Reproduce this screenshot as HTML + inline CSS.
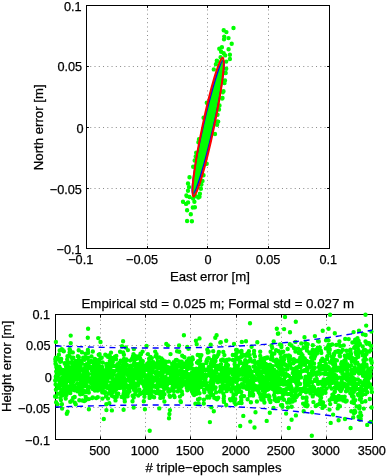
<!DOCTYPE html>
<html><head><meta charset="utf-8"><style>
html,body{margin:0;padding:0;background:#fff;}
body{width:386px;height:476px;overflow:hidden;}
svg{display:block;will-change:transform;font-family:"Liberation Sans",sans-serif;}
text{stroke:#000;stroke-width:0.25;}
</style></head><body>
<svg width="386" height="476" viewBox="0 0 386 476">
<rect width="386" height="476" fill="#fff"/>
<line x1="147.5" y1="248.5" x2="147.5" y2="5.5" stroke="#8a8a8a" stroke-width="1" stroke-dasharray="1 3.260" stroke-dashoffset="0.5"/>
<line x1="207.5" y1="248.5" x2="207.5" y2="5.5" stroke="#8a8a8a" stroke-width="1" stroke-dasharray="1 3.260" stroke-dashoffset="0.5"/>
<line x1="268.5" y1="248.5" x2="268.5" y2="5.5" stroke="#8a8a8a" stroke-width="1" stroke-dasharray="1 3.260" stroke-dashoffset="0.5"/>
<line x1="86.5" y1="66.5" x2="329.5" y2="66.5" stroke="#8a8a8a" stroke-width="1" stroke-dasharray="1 3.260" stroke-dashoffset="0.5"/>
<line x1="86.5" y1="127.5" x2="329.5" y2="127.5" stroke="#8a8a8a" stroke-width="1" stroke-dasharray="1 3.260" stroke-dashoffset="0.5"/>
<line x1="86.5" y1="188.5" x2="329.5" y2="188.5" stroke="#8a8a8a" stroke-width="1" stroke-dasharray="1 3.260" stroke-dashoffset="0.5"/>
<line x1="100.5" y1="439.5" x2="100.5" y2="314.5" stroke="#8a8a8a" stroke-width="1" stroke-dasharray="1 3.260" stroke-dashoffset="0.5"/>
<line x1="145.5" y1="439.5" x2="145.5" y2="314.5" stroke="#8a8a8a" stroke-width="1" stroke-dasharray="1 3.260" stroke-dashoffset="0.5"/>
<line x1="190.5" y1="439.5" x2="190.5" y2="314.5" stroke="#8a8a8a" stroke-width="1" stroke-dasharray="1 3.260" stroke-dashoffset="0.5"/>
<line x1="236.5" y1="439.5" x2="236.5" y2="314.5" stroke="#8a8a8a" stroke-width="1" stroke-dasharray="1 3.260" stroke-dashoffset="0.5"/>
<line x1="281.5" y1="439.5" x2="281.5" y2="314.5" stroke="#8a8a8a" stroke-width="1" stroke-dasharray="1 3.260" stroke-dashoffset="0.5"/>
<line x1="326.5" y1="439.5" x2="326.5" y2="314.5" stroke="#8a8a8a" stroke-width="1" stroke-dasharray="1 3.260" stroke-dashoffset="0.5"/>
<line x1="55.5" y1="345.5" x2="372.5" y2="345.5" stroke="#8a8a8a" stroke-width="1" stroke-dasharray="1 3.260" stroke-dashoffset="0.5"/>
<line x1="55.5" y1="376.5" x2="372.5" y2="376.5" stroke="#8a8a8a" stroke-width="1" stroke-dasharray="1 3.260" stroke-dashoffset="0.5"/>
<line x1="55.5" y1="407.5" x2="372.5" y2="407.5" stroke="#8a8a8a" stroke-width="1" stroke-dasharray="1 3.260" stroke-dashoffset="0.5"/>
<rect x="86.5" y="5.5" width="243.0" height="243.0" fill="none" stroke="#000" stroke-width="1"/>
<rect x="55.5" y="314.5" width="317.0" height="125.0" fill="none" stroke="#000" stroke-width="1"/>
<path d="M147.5 248.5v-2.4M147.5 5.5v2.4M207.5 248.5v-2.4M207.5 5.5v2.4M268.5 248.5v-2.4M268.5 5.5v2.4M86.5 66.5h2.4M329.5 66.5h-2.4M86.5 127.5h2.4M329.5 127.5h-2.4M86.5 188.5h2.4M329.5 188.5h-2.4M100.5 439.5v-3.2M100.5 314.5v3.2M145.5 439.5v-3.2M145.5 314.5v3.2M190.5 439.5v-3.2M190.5 314.5v3.2M236.5 439.5v-3.2M236.5 314.5v3.2M281.5 439.5v-3.2M281.5 314.5v3.2M326.5 439.5v-3.2M326.5 314.5v3.2M55.5 345.5h3.2M372.5 345.5h-3.2M55.5 376.5h3.2M372.5 376.5h-3.2M55.5 407.5h3.2M372.5 407.5h-3.2" stroke="#000" stroke-width="1" fill="none"/>
<g transform="translate(208.15 127.05) rotate(11.919)">
<ellipse cx="0" cy="0" rx="5.9" ry="71" fill="#00ff00"/>
</g>
<path d="M233.5 28.0h0M223.7 30.2h0M226.4 32.1h0M224.2 36.6h0M224.0 39.2h0M228.5 38.1h0M231.7 43.8h0M221.9 47.2h0M219.3 48.8h0M228.6 49.3h0M221.1 51.7h0M223.7 53.3h0M229.9 54.8h0M225.2 55.4h0M229.9 59.0h0M217.4 61.1h0M215.9 64.2h0M226.2 61.6h0M213.8 69.4h0M226.2 68.8h0M225.7 73.0h0M220.6 57.3h0M216.8 60.8h0M225.0 73.1h0M225.0 80.4h0M224.5 83.0h0M223.5 91.2h0M223.0 92.3h0M222.5 98.0h0M222.1 98.6h0M219.5 105.4h0M219.0 109.5h0M217.5 114.7h0M217.5 121.4h0M218.2 121.6h0M217.1 124.7h0M215.0 134.0h0M206.7 163.7h0M206.8 102.8h0M203.6 117.8h0M199.0 139.2h0M198.4 142.3h0M196.2 152.8h0M195.7 156.4h0M194.7 160.5h0M193.2 166.8h0M189.5 177.3h0M188.0 183.5h0M189.0 187.1h0M188.0 190.7h0M186.4 195.4h0M189.5 197.0h0M203.5 175.2h0M202.5 180.9h0M201.4 184.5h0M200.9 188.7h0M199.9 193.8h0M198.3 197.5h0M193.1 198.5h0M186.6 196.1h0M199.5 196.7h0M195.9 196.1h0M183.0 201.8h0M186.1 203.9h0M188.1 202.4h0M194.4 201.8h0M192.8 207.5h0M194.9 207.3h0M187.1 210.3h0M190.8 214.3h0M187.1 221.0h0M191.9 221.2h0" stroke="#00ff00" stroke-width="4.4" stroke-linecap="round" fill="none"/>
<g transform="translate(208.15 127.05) rotate(11.919)">
<ellipse cx="0" cy="0" rx="5.0" ry="68.4" fill="none" stroke="#0000ff" stroke-width="1.4" transform="rotate(1.0)"/>
<ellipse cx="0" cy="0" rx="5.75" ry="70.9" fill="none" stroke="#ff0000" stroke-width="2"/>
</g>
<path d="M55.1 396.4h0M55.2 380.4h0M55.3 359.3h0M55.5 363.7h0M55.5 361.2h0M55.6 384.5h0M55.6 380.1h0M55.6 363.5h0M55.8 357.8h0M55.8 376.7h0M55.9 389.8h0M56.1 402.3h0M56.2 358.5h0M56.2 396.9h0M56.2 371.4h0M56.3 365.3h0M56.3 366.9h0M56.6 374.4h0M56.8 378.3h0M57.0 370.8h0M57.1 370.1h0M57.1 359.2h0M57.1 367.7h0M57.3 386.7h0M57.5 404.3h0M57.5 372.7h0M57.8 385.5h0M57.8 358.1h0M57.9 393.8h0M58.2 373.9h0M58.4 386.2h0M58.5 388.1h0M58.9 354.7h0M59.0 374.3h0M59.3 378.9h0M59.4 366.8h0M59.4 386.8h0M59.5 381.3h0M59.7 384.9h0M59.7 350.4h0M59.8 372.2h0M60.0 368.2h0M60.2 361.8h0M60.4 379.0h0M60.4 378.5h0M60.4 398.1h0M60.4 370.2h0M60.5 373.1h0M60.7 381.9h0M60.9 360.7h0M60.9 400.1h0M61.0 371.0h0M61.1 394.7h0M61.2 391.6h0M61.2 379.3h0M61.2 359.0h0M61.3 392.2h0M61.3 389.7h0M61.4 392.5h0M61.4 350.0h0M61.7 369.7h0M61.7 371.2h0M61.8 349.3h0M61.9 373.3h0M61.9 404.3h0M61.9 383.2h0M62.0 392.3h0M62.7 349.9h0M62.7 395.2h0M62.7 372.6h0M62.8 383.4h0M62.9 382.4h0M63.1 376.3h0M63.1 378.3h0M63.2 385.6h0M63.3 392.9h0M63.3 385.2h0M63.4 390.4h0M63.4 388.6h0M63.4 375.0h0M63.5 378.6h0M63.6 370.3h0M63.8 379.8h0M63.8 351.3h0M64.0 386.3h0M64.2 389.8h0M64.5 363.1h0M64.7 385.9h0M64.7 375.0h0M64.9 363.7h0M65.0 377.9h0M65.0 381.3h0M65.1 363.9h0M65.2 372.3h0M65.4 383.7h0M65.4 392.5h0M65.6 381.7h0M65.7 398.5h0M65.8 388.2h0M65.9 391.1h0M66.0 372.8h0M66.1 366.7h0M66.1 385.3h0M66.1 382.5h0M66.4 391.2h0M66.4 394.9h0M66.4 382.5h0M66.5 369.3h0M66.6 370.6h0M66.6 369.0h0M66.7 380.4h0M66.8 389.0h0M66.8 364.6h0M67.2 359.4h0M67.2 364.8h0M67.2 364.9h0M67.2 362.3h0M67.2 374.3h0M67.4 372.4h0M67.5 356.2h0M67.6 366.0h0M67.7 367.7h0M67.8 378.3h0M67.9 381.1h0M68.0 391.3h0M68.3 368.9h0M68.4 380.7h0M68.4 392.3h0M68.5 386.5h0M68.7 392.1h0M68.9 355.6h0M68.9 379.8h0M68.9 375.1h0M68.9 392.5h0M69.1 390.1h0M69.2 362.8h0M69.2 379.6h0M69.3 373.6h0M69.6 352.5h0M69.6 349.1h0M69.6 367.5h0M69.6 370.1h0M69.8 373.4h0M69.8 380.3h0M70.0 350.0h0M70.0 392.4h0M70.2 377.7h0M70.3 401.7h0M70.3 393.1h0M70.4 371.2h0M70.5 370.5h0M70.7 372.1h0M70.8 380.8h0M71.1 385.8h0M71.1 383.6h0M71.3 381.5h0M71.4 362.2h0M71.4 357.4h0M71.5 370.7h0M71.5 383.6h0M71.8 388.8h0M71.9 372.5h0M71.9 379.5h0M72.0 400.4h0M72.0 358.6h0M72.1 376.6h0M72.2 380.7h0M72.2 387.9h0M72.5 387.9h0M72.6 364.7h0M72.6 388.8h0M72.6 375.2h0M72.7 368.2h0M72.8 352.4h0M72.9 368.6h0M72.9 376.9h0M72.9 382.3h0M72.9 365.3h0M73.0 363.4h0M73.0 382.1h0M73.0 368.8h0M73.1 378.3h0M73.2 397.7h0M73.2 389.7h0M73.3 365.9h0M73.3 357.7h0M73.3 367.6h0M73.3 379.1h0M73.4 385.9h0M73.5 369.5h0M73.6 372.2h0M73.7 397.6h0M73.7 368.0h0M73.9 385.7h0M73.9 367.7h0M74.2 369.5h0M74.2 367.0h0M74.4 362.5h0M74.5 367.3h0M74.5 390.2h0M74.5 389.8h0M74.7 362.9h0M74.7 370.3h0M74.7 397.0h0M74.8 402.7h0M75.0 364.8h0M75.1 387.4h0M75.1 365.7h0M75.2 379.6h0M75.4 373.0h0M75.5 375.3h0M75.5 389.5h0M75.5 363.2h0M75.6 365.2h0M75.7 404.2h0M75.7 361.0h0M76.1 369.5h0M76.1 364.3h0M76.4 379.1h0M76.4 376.4h0M76.5 390.5h0M76.6 372.3h0M76.7 364.8h0M76.7 388.7h0M76.7 371.7h0M77.2 383.4h0M77.2 362.9h0M77.4 363.7h0M77.4 369.8h0M77.4 370.6h0M77.6 363.2h0M77.7 383.7h0M77.7 379.3h0M77.8 378.4h0M77.8 391.4h0M77.9 378.0h0M77.9 356.2h0M78.0 370.3h0M78.1 356.6h0M78.1 363.5h0M78.5 360.8h0M78.6 374.9h0M78.7 366.4h0M78.7 350.2h0M78.8 357.3h0M78.9 372.2h0M78.9 385.5h0M79.1 388.4h0M79.2 373.3h0M79.3 370.7h0M79.3 400.3h0M79.3 373.6h0M79.4 371.9h0M79.4 372.5h0M79.7 383.6h0M79.9 377.7h0M80.1 365.1h0M80.2 394.3h0M80.5 385.7h0M80.5 366.1h0M80.5 369.8h0M80.6 374.9h0M80.6 376.9h0M80.7 379.3h0M80.8 382.4h0M80.9 389.9h0M80.9 369.2h0M81.3 369.8h0M81.4 386.2h0M81.7 360.7h0M81.7 386.9h0M81.7 392.3h0M81.9 352.3h0M81.9 363.4h0M82.0 378.8h0M82.1 384.5h0M82.1 379.9h0M82.2 381.4h0M82.2 380.1h0M82.4 386.5h0M82.4 370.0h0M82.5 384.2h0M82.5 400.5h0M82.6 393.8h0M82.6 377.1h0M82.8 390.3h0M83.0 369.2h0M83.2 357.8h0M83.3 370.8h0M83.3 383.4h0M83.5 384.0h0M83.5 370.7h0M83.6 359.6h0M83.8 385.3h0M83.8 372.0h0M83.9 385.4h0M83.9 373.2h0M83.9 392.0h0M84.2 401.0h0M84.3 376.3h0M84.5 378.2h0M84.5 368.1h0M84.6 386.0h0M84.6 359.7h0M84.7 376.2h0M84.8 357.5h0M84.9 381.8h0M84.9 358.0h0M85.0 378.3h0M85.2 375.6h0M85.2 365.0h0M85.5 400.2h0M85.6 391.1h0M85.6 353.8h0M85.7 396.8h0M85.9 383.8h0M86.0 370.4h0M86.0 358.6h0M86.1 383.9h0M86.4 375.7h0M86.5 391.9h0M86.5 382.3h0M86.6 364.2h0M86.7 373.2h0M87.1 377.7h0M87.3 371.9h0M87.4 375.5h0M87.4 375.1h0M87.5 381.8h0M87.5 389.8h0M87.5 368.6h0M87.6 392.0h0M87.8 364.2h0M87.9 349.9h0M87.9 357.8h0M88.2 352.7h0M88.3 390.5h0M88.4 374.0h0M88.4 387.7h0M88.6 386.6h0M88.8 399.1h0M88.8 392.6h0M89.0 366.1h0M89.0 368.1h0M89.0 361.6h0M89.4 362.6h0M90.3 366.9h0M90.5 387.2h0M90.6 378.4h0M90.8 367.5h0M91.1 360.9h0M91.1 381.6h0M91.1 383.1h0M91.3 382.3h0M91.5 356.4h0M91.7 369.5h0M91.8 380.7h0M92.0 386.5h0M92.0 371.1h0M92.2 398.1h0M92.2 379.5h0M92.2 383.9h0M92.3 384.0h0M92.3 374.0h0M92.5 371.3h0M92.6 362.1h0M92.6 375.2h0M92.6 367.6h0M92.7 386.7h0M92.7 397.5h0M92.7 361.9h0M92.8 351.5h0M92.9 389.1h0M92.9 377.3h0M93.1 362.3h0M93.2 375.2h0M93.5 387.8h0M93.5 363.5h0M93.6 378.1h0M93.6 367.1h0M93.7 388.6h0M93.9 365.1h0M93.9 363.1h0M94.1 385.5h0M94.1 370.1h0M94.1 384.4h0M94.1 382.7h0M94.3 387.8h0M94.6 381.8h0M94.7 384.9h0M94.7 361.4h0M94.8 379.2h0M94.9 390.6h0M94.9 358.9h0M95.0 369.4h0M95.0 363.7h0M95.1 377.1h0M95.3 367.4h0M95.5 377.5h0M95.7 388.3h0M95.8 374.9h0M95.9 374.4h0M96.2 374.5h0M96.2 365.5h0M96.2 398.1h0M96.5 372.4h0M96.7 386.2h0M96.7 379.7h0M96.7 370.5h0M96.8 375.3h0M96.8 384.6h0M96.9 366.5h0M97.0 376.7h0M97.0 364.2h0M97.1 360.4h0M97.1 380.5h0M97.1 389.8h0M97.2 374.9h0M97.6 365.6h0M97.7 371.9h0M97.8 390.6h0M97.8 397.2h0M98.1 387.7h0M98.1 387.8h0M98.1 368.0h0M98.2 375.0h0M98.3 364.8h0M98.4 376.9h0M98.7 354.8h0M98.7 375.6h0M98.9 368.8h0M99.1 380.9h0M99.1 370.1h0M99.2 362.1h0M99.3 366.0h0M99.3 359.7h0M99.5 383.3h0M99.6 370.0h0M99.6 354.3h0M99.7 372.5h0M99.8 377.7h0M100.1 378.5h0M100.3 382.2h0M100.4 373.8h0M100.4 358.2h0M100.6 370.0h0M100.6 375.9h0M100.8 385.5h0M100.8 389.8h0M100.9 368.7h0M101.3 381.5h0M101.3 374.4h0M101.4 381.7h0M101.5 373.6h0M101.5 381.0h0M101.6 374.4h0M101.7 357.7h0M101.7 385.0h0M101.9 369.2h0M102.1 376.6h0M102.1 366.9h0M102.2 384.3h0M102.3 370.8h0M102.3 388.1h0M102.4 398.6h0M102.4 392.4h0M102.4 387.9h0M102.5 390.1h0M102.6 380.2h0M102.7 362.5h0M103.0 390.4h0M103.5 370.7h0M103.6 374.5h0M103.7 385.1h0M103.7 387.9h0M103.8 371.1h0M104.0 370.5h0M104.1 380.7h0M104.2 378.3h0M104.2 376.6h0M104.3 392.7h0M104.3 375.1h0M104.8 372.7h0M105.3 354.8h0M105.4 392.2h0M105.6 387.2h0M105.6 375.5h0M105.7 383.7h0M105.7 381.5h0M105.8 376.4h0M105.8 380.1h0M105.9 376.9h0M105.9 371.1h0M106.0 396.4h0M106.3 369.6h0M106.3 404.2h0M106.4 355.5h0M106.4 365.1h0M106.5 383.9h0M106.5 363.9h0M106.6 378.3h0M106.7 371.1h0M106.8 367.1h0M106.9 372.1h0M106.9 376.4h0M107.1 368.8h0M107.4 378.7h0M107.4 381.0h0M107.7 388.0h0M108.0 398.5h0M108.1 356.9h0M108.3 366.8h0M108.6 393.5h0M108.6 371.5h0M109.1 373.8h0M109.3 403.2h0M109.4 386.5h0M109.5 377.6h0M109.7 355.3h0M109.8 362.9h0M109.8 360.9h0M110.0 372.4h0M110.0 364.0h0M110.2 390.6h0M110.3 368.7h0M110.3 367.3h0M110.3 391.6h0M110.9 373.1h0M110.9 357.6h0M111.0 352.6h0M111.0 358.8h0M111.0 384.7h0M111.2 377.2h0M111.3 382.4h0M111.4 361.1h0M111.5 386.4h0M111.9 388.8h0M111.9 395.8h0M112.1 373.6h0M112.2 370.7h0M112.2 383.3h0M112.3 385.2h0M112.3 378.3h0M112.3 359.6h0M112.5 392.4h0M112.5 376.5h0M112.5 373.4h0M112.5 371.4h0M112.5 360.6h0M112.7 365.8h0M112.7 372.6h0M112.8 358.1h0M112.8 362.0h0M113.2 372.4h0M113.5 373.0h0M113.6 390.3h0M113.8 374.3h0M114.2 385.4h0M114.2 389.8h0M114.2 379.3h0M114.3 396.9h0M114.3 386.8h0M114.4 382.2h0M114.4 371.9h0M114.5 379.9h0M114.5 371.2h0M115.0 356.8h0M115.0 366.1h0M115.2 390.2h0M115.3 397.8h0M115.4 387.3h0M115.4 387.0h0M115.5 400.4h0M115.6 397.2h0M115.6 397.3h0M116.0 383.8h0M116.1 359.2h0M116.3 355.9h0M116.4 389.1h0M116.6 382.3h0M116.7 393.5h0M116.8 396.7h0M117.0 377.9h0M117.0 376.6h0M117.0 384.9h0M117.2 369.6h0M117.3 381.4h0M117.4 364.2h0M117.4 383.5h0M117.4 367.1h0M117.6 379.9h0M117.6 376.0h0M117.7 370.0h0M117.9 393.7h0M117.9 386.6h0M118.0 378.4h0M118.0 381.0h0M118.2 374.5h0M118.2 387.4h0M118.3 393.7h0M118.3 378.9h0M118.5 374.1h0M118.6 387.4h0M119.2 362.9h0M119.3 369.2h0M119.7 367.3h0M119.7 368.0h0M120.0 387.9h0M120.1 351.7h0M120.1 385.9h0M120.1 372.6h0M120.2 368.3h0M120.2 373.0h0M120.3 374.6h0M120.3 386.6h0M120.5 381.5h0M120.5 376.2h0M120.7 360.8h0M120.8 384.5h0M121.0 368.1h0M121.0 371.0h0M121.1 375.2h0M121.3 382.8h0M121.5 377.8h0M121.6 396.9h0M122.0 374.6h0M122.0 371.9h0M122.1 382.0h0M122.2 369.3h0M122.3 371.8h0M122.3 384.4h0M122.4 365.4h0M122.4 381.9h0M122.5 373.7h0M122.6 387.8h0M122.7 385.2h0M122.8 383.1h0M122.9 372.5h0M122.9 361.4h0M123.0 374.3h0M123.0 380.3h0M123.2 352.5h0M123.4 363.1h0M123.4 378.8h0M123.5 376.8h0M123.6 394.0h0M123.8 375.1h0M123.9 354.8h0M123.9 389.6h0M123.9 392.7h0M123.9 374.0h0M123.9 365.5h0M124.0 358.9h0M124.0 394.0h0M124.1 384.5h0M124.1 377.7h0M124.2 361.4h0M124.4 371.2h0M124.5 398.9h0M124.5 396.4h0M124.5 373.7h0M124.8 401.4h0M124.9 379.8h0M125.0 386.3h0M125.0 366.8h0M125.2 361.9h0M125.4 369.0h0M125.6 371.4h0M125.6 368.9h0M125.7 385.9h0M125.7 383.9h0M125.8 391.2h0M125.8 380.9h0M126.1 371.9h0M126.1 360.7h0M126.4 359.5h0M126.5 380.3h0M126.8 386.9h0M126.9 364.9h0M127.6 396.2h0M127.8 393.8h0M127.8 369.2h0M127.9 350.1h0M128.0 386.4h0M128.1 375.7h0M128.4 390.4h0M128.8 377.9h0M129.0 377.9h0M129.0 386.0h0M129.2 372.2h0M129.3 379.0h0M129.3 370.8h0M129.5 379.3h0M129.5 391.4h0M130.0 375.1h0M130.0 366.5h0M130.1 386.3h0M130.1 360.6h0M130.1 371.3h0M130.1 381.1h0M130.1 376.3h0M130.2 381.8h0M130.7 387.5h0M130.7 365.6h0M130.7 365.8h0M130.8 382.1h0M130.8 378.8h0M131.3 379.2h0M131.4 368.2h0M131.8 359.0h0M132.0 384.5h0M132.1 372.9h0M132.3 376.8h0M132.4 369.8h0M132.4 359.2h0M132.5 387.0h0M132.5 401.3h0M132.6 378.5h0M132.6 395.7h0M132.9 356.4h0M132.9 384.8h0M133.0 379.8h0M133.0 373.5h0M133.1 373.9h0M133.1 381.5h0M133.2 376.4h0M133.3 365.0h0M133.3 380.1h0M133.5 354.1h0M133.6 372.1h0M133.6 382.0h0M133.7 365.6h0M133.7 397.4h0M133.7 372.2h0M133.9 349.1h0M134.1 363.3h0M134.1 389.9h0M134.1 386.0h0M134.4 376.0h0M134.4 358.8h0M134.5 385.0h0M134.5 362.9h0M134.6 372.5h0M134.8 377.4h0M134.9 378.2h0M135.0 356.0h0M135.1 394.3h0M135.2 389.8h0M135.3 365.4h0M135.4 364.2h0M135.5 391.8h0M135.5 387.2h0M135.8 390.0h0M135.8 369.6h0M136.0 384.1h0M136.0 359.1h0M136.0 366.9h0M136.4 373.0h0M136.4 373.8h0M136.4 369.7h0M136.5 366.1h0M137.0 376.1h0M137.0 373.1h0M137.0 366.8h0M137.1 377.1h0M137.5 364.2h0M137.7 377.9h0M138.0 385.5h0M138.1 374.0h0M138.1 356.4h0M138.2 358.3h0M138.3 395.5h0M138.3 372.6h0M138.3 382.3h0M138.5 380.2h0M138.5 380.5h0M138.7 379.1h0M138.9 382.7h0M139.0 379.7h0M139.1 373.8h0M139.1 390.9h0M139.2 391.3h0M139.3 389.9h0M139.3 390.1h0M139.3 369.3h0M139.4 389.8h0M139.5 377.5h0M139.6 375.7h0M139.6 367.9h0M139.8 376.2h0M139.9 363.8h0M140.1 377.2h0M140.1 373.5h0M140.1 367.4h0M140.1 394.0h0M140.1 371.8h0M140.2 358.4h0M140.3 375.2h0M140.5 379.4h0M140.5 353.7h0M140.6 375.2h0M140.8 361.7h0M140.9 354.3h0M140.9 375.2h0M141.0 382.5h0M141.2 371.9h0M141.3 362.3h0M141.4 378.3h0M141.5 379.2h0M141.6 365.5h0M141.7 367.1h0M141.8 360.6h0M142.2 374.7h0M142.3 382.2h0M142.4 372.1h0M142.5 364.1h0M142.5 368.7h0M142.6 351.6h0M142.6 383.2h0M142.7 392.8h0M142.7 370.6h0M142.8 361.3h0M142.8 381.9h0M143.2 376.4h0M143.4 384.2h0M143.7 391.5h0M143.8 385.3h0M143.8 401.2h0M143.9 373.2h0M143.9 371.0h0M144.0 365.9h0M144.1 386.4h0M144.1 384.2h0M144.4 396.7h0M144.4 394.0h0M144.5 365.9h0M144.6 385.8h0M144.9 389.2h0M145.0 381.3h0M145.2 365.4h0M145.2 384.9h0M145.6 369.6h0M145.7 380.2h0M145.9 380.2h0M146.0 365.7h0M146.1 379.6h0M146.3 391.8h0M146.5 366.7h0M146.7 376.3h0M147.0 383.2h0M147.0 386.2h0M147.2 369.6h0M147.2 385.2h0M147.3 375.1h0M147.4 364.6h0M147.6 377.9h0M147.7 363.5h0M147.8 393.1h0M147.8 369.3h0M147.9 370.2h0M147.9 354.1h0M148.2 376.3h0M148.3 365.8h0M148.4 378.4h0M148.5 389.2h0M148.5 387.1h0M148.6 385.0h0M148.7 367.2h0M148.7 385.9h0M148.9 376.0h0M148.9 365.8h0M149.1 361.7h0M149.1 365.3h0M149.1 358.7h0M149.2 390.1h0M149.2 382.4h0M149.3 372.7h0M149.4 363.2h0M149.4 370.5h0M149.5 385.7h0M149.6 378.8h0M149.6 396.3h0M149.6 366.8h0M149.6 397.9h0M149.7 373.9h0M149.7 363.6h0M149.8 365.7h0M149.9 395.8h0M150.1 373.9h0M150.2 380.7h0M150.4 380.1h0M150.5 356.9h0M150.6 373.1h0M150.6 393.6h0M150.7 389.4h0M150.8 368.0h0M151.0 373.8h0M151.1 390.1h0M151.1 396.6h0M151.2 383.2h0M151.3 381.8h0M151.4 366.8h0M151.4 383.9h0M151.6 368.6h0M151.6 362.1h0M151.7 395.8h0M151.7 383.7h0M151.8 358.1h0M152.0 382.0h0M152.0 376.9h0M152.1 365.2h0M152.2 385.8h0M152.3 381.7h0M152.4 396.6h0M152.5 370.2h0M152.5 382.7h0M152.5 381.3h0M152.7 381.5h0M152.8 365.3h0M152.8 368.6h0M153.3 386.5h0M153.4 362.3h0M153.5 379.1h0M153.9 377.9h0M154.1 397.2h0M154.1 391.8h0M154.2 379.0h0M154.3 391.7h0M154.6 386.2h0M154.6 367.6h0M154.8 367.3h0M154.8 372.6h0M155.0 380.2h0M155.2 351.6h0M155.5 385.9h0M155.6 373.6h0M155.7 356.3h0M155.8 392.1h0M155.9 387.0h0M156.0 364.1h0M156.1 371.9h0M156.1 393.1h0M156.3 377.0h0M156.5 354.3h0M156.5 380.4h0M156.7 367.7h0M156.9 375.9h0M157.2 385.7h0M157.3 358.1h0M157.3 365.8h0M157.4 363.1h0M157.5 379.2h0M157.6 376.2h0M157.7 374.7h0M157.7 372.1h0M157.7 381.6h0M157.8 383.5h0M157.8 361.7h0M157.8 390.7h0M158.0 382.8h0M158.4 382.0h0M158.4 383.7h0M158.5 392.0h0M158.6 386.7h0M159.0 367.9h0M159.0 381.9h0M159.0 386.4h0M159.2 357.5h0M159.2 393.6h0M159.5 365.1h0M159.5 373.3h0M159.5 393.8h0M159.7 382.4h0M159.8 382.2h0M159.9 362.0h0M159.9 366.6h0M160.0 380.9h0M160.2 391.7h0M160.3 397.9h0M160.4 379.6h0M160.5 394.4h0M160.6 379.7h0M160.6 380.1h0M160.9 373.1h0M161.1 365.6h0M161.2 376.3h0M161.3 371.9h0M161.3 379.7h0M161.4 365.1h0M161.5 367.8h0M161.5 358.5h0M161.7 361.0h0M161.9 386.3h0M162.0 395.1h0M162.1 369.9h0M162.4 363.8h0M162.5 385.7h0M162.5 359.6h0M162.6 376.4h0M162.7 378.7h0M162.8 373.3h0M162.8 394.5h0M163.0 397.4h0M163.1 381.8h0M163.2 391.8h0M163.2 378.0h0M163.3 377.8h0M163.7 370.3h0M163.7 387.5h0M164.1 371.6h0M164.2 389.0h0M164.2 382.0h0M164.4 394.2h0M164.4 401.5h0M164.6 364.6h0M164.7 365.1h0M165.0 383.1h0M165.0 384.0h0M165.2 361.4h0M165.4 363.7h0M165.4 378.2h0M165.5 367.7h0M165.6 376.9h0M165.8 381.9h0M166.1 370.7h0M166.2 383.3h0M166.8 371.1h0M166.9 381.1h0M167.0 383.6h0M167.1 385.0h0M167.2 372.7h0M167.2 366.9h0M167.3 373.0h0M167.6 388.6h0M167.7 370.8h0M168.1 388.9h0M168.3 391.6h0M168.4 380.6h0M168.5 368.4h0M168.5 369.9h0M168.5 371.4h0M168.8 361.6h0M169.1 367.7h0M169.1 382.3h0M169.3 368.6h0M169.3 381.2h0M169.4 373.2h0M169.4 370.8h0M169.4 378.7h0M169.5 395.6h0M169.5 379.5h0M169.7 381.4h0M169.7 379.0h0M169.7 382.7h0M169.8 391.1h0M170.0 396.8h0M170.0 369.7h0M170.1 368.2h0M170.1 373.0h0M170.2 378.0h0M170.5 354.1h0M170.6 369.5h0M170.7 377.2h0M170.9 367.5h0M171.3 378.2h0M171.3 369.0h0M171.3 374.0h0M171.3 370.9h0M171.8 376.5h0M172.1 382.6h0M172.2 371.2h0M172.2 363.9h0M172.2 388.1h0M172.3 383.5h0M172.5 390.1h0M172.6 366.7h0M172.6 379.7h0M172.6 366.5h0M172.7 386.5h0M172.9 367.3h0M173.0 383.9h0M173.1 382.6h0M173.2 370.7h0M173.3 381.7h0M173.3 384.1h0M173.4 366.4h0M173.4 377.8h0M173.6 362.3h0M173.7 385.0h0M173.7 383.7h0M173.8 381.0h0M173.8 395.1h0M173.9 391.0h0M174.1 369.9h0M174.1 373.4h0M174.1 373.7h0M174.1 371.5h0M174.5 387.0h0M174.6 397.0h0M174.6 364.1h0M174.7 374.0h0M174.9 363.5h0M175.0 377.3h0M175.4 367.9h0M175.4 383.2h0M175.4 377.0h0M175.5 378.8h0M175.6 372.5h0M175.7 360.3h0M175.7 369.2h0M175.9 385.9h0M176.0 378.1h0M176.0 376.8h0M176.2 367.3h0M176.5 375.2h0M176.6 385.2h0M176.6 386.2h0M176.7 380.9h0M176.7 385.3h0M176.7 360.0h0M176.8 369.7h0M177.0 376.2h0M177.1 365.3h0M177.1 351.3h0M177.2 379.3h0M177.4 377.2h0M177.7 380.4h0M177.8 391.4h0M177.8 384.3h0M178.3 387.9h0M178.3 371.1h0M178.5 371.4h0M178.5 366.4h0M178.6 386.0h0M178.7 365.0h0M179.0 388.3h0M179.0 378.9h0M179.1 361.4h0M179.2 362.1h0M179.3 363.8h0M179.3 351.7h0M179.3 364.3h0M179.4 379.6h0M179.5 379.2h0M179.6 385.8h0M179.7 373.8h0M179.8 385.5h0M179.9 384.0h0M179.9 388.2h0M179.9 396.6h0M180.0 381.6h0M180.1 366.0h0M180.5 401.2h0M180.8 371.3h0M180.8 383.2h0M180.9 402.0h0M181.0 379.1h0M181.1 374.0h0M181.2 369.7h0M181.3 363.4h0M181.5 386.6h0M181.5 377.1h0M181.5 368.6h0M181.6 370.1h0M181.7 371.9h0M181.7 375.3h0M181.7 361.8h0M181.8 391.5h0M182.2 394.2h0M182.2 355.8h0M182.3 371.4h0M182.5 363.2h0M182.6 373.7h0M182.7 380.7h0M183.2 381.8h0M183.3 374.7h0M183.5 381.9h0M183.6 377.1h0M183.6 377.3h0M183.9 366.5h0M184.3 366.8h0M184.4 357.2h0M184.5 384.6h0M185.1 376.6h0M185.1 364.7h0M185.1 371.9h0M185.2 382.3h0M186.0 371.7h0M186.1 376.1h0M186.1 381.6h0M186.2 380.9h0M186.2 384.4h0M186.5 362.0h0M186.5 367.6h0M186.5 373.2h0M186.7 362.4h0M186.7 364.6h0M186.8 385.5h0M186.8 388.1h0M186.8 387.6h0M187.0 366.7h0M187.0 375.7h0M187.0 361.1h0M187.1 369.2h0M187.1 377.8h0M187.3 390.3h0M188.2 378.5h0M188.4 348.8h0M188.4 383.5h0M188.6 385.1h0M188.6 377.9h0M188.6 359.2h0M188.7 375.8h0M188.7 388.4h0M188.8 382.5h0M188.9 376.9h0M189.0 374.3h0M189.0 363.2h0M189.1 358.5h0M189.1 359.1h0M189.3 367.7h0M189.3 375.5h0M189.4 384.8h0M189.6 368.4h0M189.7 360.1h0M189.7 365.5h0M189.8 376.8h0M190.1 367.3h0M190.2 377.9h0M190.2 377.2h0M190.5 378.0h0M190.5 374.4h0M190.6 376.3h0M190.7 363.3h0M190.8 375.3h0M190.8 376.5h0M190.9 363.0h0M190.9 367.2h0M191.2 362.1h0M191.2 384.5h0M191.4 359.9h0M191.4 375.6h0M191.5 388.0h0M191.5 377.4h0M191.6 390.2h0M191.6 387.4h0M191.6 380.5h0M191.7 364.4h0M192.2 391.6h0M192.2 372.4h0M192.3 378.9h0M192.4 357.4h0M192.6 373.5h0M192.7 368.7h0M192.8 359.2h0M192.8 388.8h0M192.9 379.9h0M193.0 393.5h0M193.0 385.8h0M193.2 372.2h0M193.4 378.0h0M193.7 371.3h0M193.9 380.8h0M194.0 384.2h0M194.0 377.8h0M194.0 386.5h0M194.0 389.3h0M194.1 395.0h0M194.3 377.9h0M195.0 371.3h0M195.3 390.9h0M195.3 382.1h0M195.4 403.7h0M195.4 390.8h0M195.5 376.1h0M195.6 392.3h0M195.7 371.9h0M195.9 381.8h0M195.9 372.8h0M196.1 383.6h0M196.2 393.9h0M196.2 377.4h0M196.3 368.7h0M196.6 383.4h0M196.8 372.7h0M196.8 385.6h0M196.9 381.3h0M197.0 362.6h0M197.1 377.5h0M197.2 388.3h0M197.2 370.8h0M197.3 376.7h0M197.5 383.5h0M197.5 369.1h0M197.6 380.9h0M197.6 370.5h0M197.7 354.9h0M197.8 373.7h0M198.0 399.4h0M198.1 361.2h0M198.3 369.9h0M198.3 370.4h0M198.3 389.6h0M198.4 385.0h0M198.4 378.6h0M198.5 374.8h0M198.5 363.2h0M198.6 370.4h0M198.7 403.5h0M198.9 380.6h0M199.2 378.7h0M199.4 355.1h0M199.5 383.8h0M199.5 393.3h0M199.6 380.6h0M199.7 373.8h0M199.7 398.6h0M199.9 364.2h0M199.9 378.5h0M200.0 367.2h0M200.0 368.9h0M200.2 370.6h0M200.2 360.4h0M200.3 357.3h0M200.3 381.7h0M200.4 377.7h0M200.4 364.6h0M200.5 375.0h0M200.7 383.9h0M200.8 375.7h0M201.0 386.9h0M201.1 382.8h0M201.3 377.4h0M201.3 375.2h0M201.4 355.1h0M201.5 368.2h0M201.6 368.6h0M201.6 374.6h0M201.7 385.7h0M202.0 370.8h0M202.1 376.0h0M202.1 378.2h0M202.4 373.8h0M202.7 383.4h0M202.7 375.1h0M202.8 368.9h0M203.0 364.8h0M203.1 374.9h0M203.1 366.9h0M203.3 374.5h0M203.8 403.5h0M203.9 399.6h0M203.9 379.0h0M204.0 389.9h0M204.1 369.9h0M204.3 392.2h0M204.3 381.5h0M204.3 383.1h0M204.5 385.4h0M204.5 383.5h0M205.2 376.9h0M205.3 375.5h0M205.4 382.9h0M205.4 374.6h0M205.5 370.2h0M205.5 378.9h0M205.6 384.8h0M205.9 384.6h0M205.9 382.3h0M206.1 382.9h0M206.4 375.6h0M206.4 361.4h0M206.4 363.1h0M206.5 376.1h0M206.7 369.4h0M206.8 369.4h0M206.9 361.3h0M207.1 359.4h0M207.1 387.9h0M207.3 349.7h0M207.4 386.5h0M207.4 375.2h0M207.4 386.2h0M207.4 396.5h0M207.4 397.5h0M207.8 352.6h0M208.0 358.4h0M208.1 387.9h0M208.1 389.5h0M208.3 358.3h0M208.6 387.6h0M208.7 370.6h0M208.7 351.7h0M208.8 366.9h0M208.8 358.2h0M208.9 373.4h0M208.9 396.4h0M209.3 385.8h0M209.4 397.5h0M209.5 372.2h0M209.5 391.9h0M210.0 374.7h0M210.2 382.2h0M210.5 384.6h0M210.6 370.1h0M210.6 381.9h0M210.8 386.3h0M210.8 364.3h0M211.1 376.8h0M211.1 394.1h0M211.3 362.0h0M211.3 393.4h0M211.4 373.6h0M211.4 370.0h0M211.4 379.6h0M211.5 386.4h0M211.9 380.4h0M212.0 380.7h0M212.0 389.8h0M212.1 366.1h0M212.2 383.8h0M212.2 385.2h0M212.5 359.9h0M213.0 385.4h0M213.0 395.0h0M213.2 377.3h0M213.2 376.4h0M213.2 376.1h0M213.2 351.3h0M213.3 383.3h0M213.7 360.2h0M213.8 365.8h0M213.8 358.8h0M213.9 377.6h0M214.0 380.3h0M214.1 378.8h0M214.2 372.5h0M214.2 364.6h0M214.2 356.2h0M214.2 397.7h0M214.3 363.2h0M214.6 371.7h0M215.0 375.6h0M215.0 388.8h0M215.1 372.0h0M215.4 398.3h0M215.5 361.0h0M215.6 387.5h0M215.6 377.6h0M215.6 378.2h0M216.0 369.1h0M216.0 392.4h0M216.1 366.0h0M216.3 371.1h0M216.3 357.2h0M216.5 372.4h0M216.7 377.7h0M217.0 399.2h0M217.2 380.6h0M217.3 356.0h0M217.5 381.7h0M217.9 382.2h0M218.0 377.9h0M218.1 365.7h0M218.2 397.7h0M218.4 354.0h0M218.7 368.9h0M218.9 367.3h0M218.9 376.3h0M218.9 352.0h0M219.0 381.5h0M219.0 366.1h0M219.4 374.8h0M219.8 391.6h0M220.0 377.8h0M220.1 367.3h0M220.1 379.5h0M220.3 381.1h0M220.4 376.3h0M220.5 386.8h0M220.6 389.7h0M220.6 375.2h0M220.7 387.6h0M220.8 369.1h0M221.1 367.4h0M221.1 360.3h0M221.1 364.1h0M221.2 379.5h0M221.5 371.0h0M221.6 390.2h0M222.0 370.8h0M222.3 382.2h0M222.9 359.4h0M223.0 384.7h0M223.0 374.0h0M223.2 385.5h0M223.2 368.4h0M223.2 368.3h0M223.3 388.4h0M223.3 352.0h0M223.3 370.0h0M223.4 393.6h0M223.6 387.3h0M223.7 398.6h0M223.8 400.8h0M223.8 377.9h0M223.9 401.9h0M224.0 371.5h0M224.0 396.3h0M224.3 380.9h0M224.4 355.1h0M224.5 380.6h0M224.7 376.7h0M224.7 360.9h0M225.0 380.1h0M225.0 369.6h0M225.0 386.3h0M225.1 380.9h0M225.1 374.7h0M225.2 376.1h0M225.3 385.7h0M225.3 373.5h0M225.4 368.8h0M225.5 368.4h0M225.6 375.8h0M225.7 388.0h0M225.7 367.9h0M225.9 365.8h0M226.0 388.5h0M226.2 404.9h0M226.2 378.7h0M226.4 363.8h0M226.6 365.7h0M226.7 391.0h0M226.8 360.0h0M226.9 387.6h0M227.0 365.0h0M227.0 381.8h0M227.1 364.5h0M227.3 370.3h0M227.4 379.4h0M227.5 367.8h0M227.7 384.8h0M227.8 381.4h0M227.8 380.6h0M227.8 387.3h0M228.0 365.2h0M228.0 365.1h0M228.1 376.7h0M228.2 388.7h0M228.4 371.0h0M228.5 373.3h0M228.7 368.9h0M228.7 376.9h0M228.8 379.6h0M229.0 359.5h0M229.5 384.4h0M229.6 379.2h0M230.0 399.1h0M230.1 381.6h0M230.1 382.9h0M230.2 381.2h0M230.3 369.7h0M230.4 384.5h0M230.4 371.8h0M230.5 381.7h0M230.5 382.6h0M230.6 400.2h0M230.6 372.1h0M230.6 369.4h0M230.7 389.4h0M230.9 384.7h0M231.0 399.9h0M231.3 381.9h0M231.4 391.2h0M231.5 372.8h0M231.6 379.1h0M231.6 370.2h0M232.0 388.1h0M232.1 399.0h0M232.1 378.8h0M232.7 385.2h0M232.8 355.0h0M232.9 374.9h0M232.9 360.0h0M233.1 371.3h0M233.3 381.9h0M233.3 396.9h0M233.4 380.8h0M233.5 370.1h0M233.6 376.8h0M233.6 373.7h0M233.6 374.0h0M233.6 394.4h0M233.7 374.0h0M233.9 387.8h0M234.1 378.3h0M234.5 360.7h0M234.5 402.5h0M234.5 381.0h0M234.6 373.5h0M234.6 364.3h0M234.6 376.9h0M234.7 388.1h0M234.7 367.9h0M234.8 370.5h0M234.9 399.8h0M235.1 376.9h0M235.3 399.1h0M235.5 375.6h0M235.6 390.1h0M235.6 389.4h0M235.7 404.3h0M235.9 354.1h0M236.0 394.0h0M236.1 372.8h0M236.1 368.3h0M236.1 349.9h0M236.2 381.5h0M236.2 356.9h0M236.4 391.4h0M236.4 377.5h0M236.6 382.0h0M236.7 389.5h0M236.7 372.6h0M236.7 352.7h0M236.8 350.0h0M236.9 368.2h0M237.0 391.1h0M237.0 387.0h0M237.1 369.1h0M237.3 369.4h0M237.3 369.6h0M237.3 380.2h0M237.6 388.3h0M237.6 370.9h0M237.7 377.0h0M237.7 358.7h0M237.9 385.5h0M237.9 365.9h0M238.1 359.4h0M238.1 351.4h0M238.1 351.6h0M238.6 389.8h0M238.8 391.7h0M238.9 374.7h0M239.2 387.8h0M239.2 402.9h0M239.3 357.6h0M239.6 370.1h0M239.7 363.3h0M240.2 374.1h0M240.3 361.4h0M240.3 373.1h0M240.5 374.6h0M240.7 351.6h0M240.7 391.4h0M240.8 369.5h0M241.0 397.0h0M241.1 357.0h0M241.1 379.4h0M241.3 392.1h0M241.3 400.1h0M241.3 379.4h0M241.5 350.9h0M241.5 370.1h0M241.6 396.8h0M241.6 403.1h0M241.7 353.6h0M241.8 384.1h0M242.0 395.8h0M242.3 374.8h0M242.5 369.0h0M242.5 355.9h0M242.8 379.3h0M242.8 386.0h0M243.0 367.8h0M243.0 387.3h0M243.2 371.9h0M243.3 374.4h0M243.3 363.8h0M243.7 386.0h0M243.8 385.7h0M243.8 372.9h0M243.9 370.6h0M244.1 396.1h0M244.1 387.4h0M244.4 374.5h0M244.5 381.7h0M244.8 355.1h0M245.2 367.3h0M245.2 360.2h0M245.3 377.8h0M245.3 375.7h0M245.4 375.2h0M245.7 362.6h0M245.9 381.1h0M245.9 355.8h0M245.9 386.6h0M245.9 363.4h0M246.0 373.2h0M246.0 381.6h0M246.1 355.6h0M246.3 363.6h0M246.3 379.2h0M246.4 387.0h0M246.4 365.6h0M246.5 387.5h0M246.5 369.4h0M246.7 388.8h0M246.7 375.3h0M246.9 388.3h0M247.1 379.3h0M247.2 354.6h0M247.4 353.4h0M247.4 383.1h0M247.5 380.4h0M247.6 399.2h0M248.1 372.7h0M248.2 361.5h0M248.3 388.2h0M248.3 389.0h0M248.3 371.9h0M248.4 384.4h0M248.6 374.1h0M248.6 355.8h0M248.8 370.4h0M248.9 367.5h0M248.9 351.2h0M248.9 373.3h0M249.1 367.3h0M249.2 375.7h0M249.3 386.8h0M249.6 354.9h0M249.8 395.4h0M249.8 375.5h0M250.0 392.3h0M250.0 387.7h0M250.0 394.0h0M250.1 380.1h0M250.3 370.3h0M250.4 358.9h0M250.9 402.2h0M251.1 373.5h0M251.2 382.0h0M251.3 385.0h0M251.4 378.1h0M251.4 373.8h0M251.5 378.0h0M251.6 376.5h0M251.6 346.8h0M251.8 375.1h0M251.9 371.9h0M251.9 392.1h0M252.1 361.6h0M252.1 383.6h0M252.5 377.8h0M252.6 387.1h0M252.7 377.8h0M252.7 389.2h0M253.1 394.2h0M253.1 395.6h0M253.1 381.8h0M253.3 376.3h0M253.5 366.6h0M254.0 353.8h0M254.1 351.0h0M254.2 385.2h0M254.2 386.2h0M254.4 366.1h0M254.4 388.5h0M254.4 361.0h0M254.5 362.0h0M254.7 389.5h0M254.8 365.9h0M254.9 356.4h0M255.2 369.9h0M255.3 380.0h0M255.5 378.4h0M255.6 369.5h0M255.7 386.2h0M255.8 371.3h0M255.9 379.2h0M256.1 386.1h0M256.6 389.4h0M256.7 368.2h0M256.8 388.4h0M256.9 372.8h0M256.9 401.5h0M257.2 378.6h0M257.2 374.4h0M257.3 371.0h0M257.5 362.8h0M257.8 368.6h0M257.8 368.1h0M257.9 379.6h0M257.9 390.3h0M258.6 392.0h0M258.7 386.5h0M258.7 372.5h0M258.9 361.8h0M259.0 371.0h0M259.1 373.0h0M259.1 365.3h0M259.2 380.4h0M259.3 373.4h0M259.3 377.4h0M259.3 372.9h0M259.5 378.9h0M259.8 393.9h0M259.8 381.2h0M260.0 387.2h0M260.2 351.7h0M260.2 355.9h0M260.4 384.6h0M260.4 387.9h0M260.5 375.7h0M260.6 396.9h0M260.6 358.6h0M260.6 376.8h0M260.7 382.6h0M260.7 361.4h0M260.8 358.1h0M261.1 374.0h0M261.2 362.0h0M261.3 399.5h0M261.4 386.8h0M261.5 388.0h0M261.5 399.0h0M261.5 364.1h0M261.6 367.6h0M261.6 394.8h0M261.7 384.2h0M262.0 361.3h0M262.1 380.5h0M262.2 376.5h0M262.4 387.7h0M262.6 371.7h0M262.7 390.2h0M263.1 365.8h0M263.2 369.1h0M263.2 371.1h0M263.4 387.3h0M263.5 379.5h0M263.5 369.8h0M263.5 389.1h0M263.5 390.3h0M263.6 399.8h0M263.6 384.1h0M263.8 378.7h0M263.8 363.1h0M264.0 393.6h0M264.0 397.1h0M264.0 359.5h0M264.1 361.1h0M264.3 392.7h0M264.3 383.6h0M264.4 402.5h0M264.4 377.6h0M264.4 358.3h0M264.6 365.4h0M265.0 391.6h0M265.0 372.6h0M265.2 386.8h0M265.3 372.1h0M265.3 384.4h0M265.3 367.6h0M265.4 358.6h0M265.8 371.9h0M265.8 371.4h0M265.9 370.9h0M265.9 364.0h0M265.9 382.4h0M266.1 378.9h0M266.2 378.7h0M266.2 357.6h0M266.3 374.1h0M266.4 368.3h0M266.6 381.7h0M266.8 395.8h0M266.9 380.8h0M266.9 369.5h0M267.0 380.8h0M267.0 384.5h0M267.0 381.7h0M267.1 368.9h0M267.1 370.2h0M267.1 376.4h0M267.1 389.9h0M267.1 386.1h0M267.1 358.0h0M267.2 378.8h0M267.3 367.5h0M267.3 372.0h0M267.6 396.2h0M267.6 357.4h0M267.7 375.2h0M268.2 389.3h0M268.2 365.5h0M268.3 384.6h0M268.5 371.8h0M268.7 395.5h0M268.8 379.0h0M269.0 366.8h0M269.1 383.5h0M269.2 396.8h0M269.2 388.3h0M269.3 366.8h0M269.3 399.5h0M269.4 396.6h0M269.5 365.4h0M269.6 374.9h0M269.9 377.3h0M269.9 383.1h0M270.0 370.9h0M270.0 364.6h0M270.3 370.1h0M270.4 402.0h0M270.4 367.5h0M270.4 400.6h0M270.6 351.7h0M270.6 383.1h0M270.7 367.8h0M270.7 371.8h0M270.8 385.9h0M270.9 359.2h0M271.0 373.3h0M271.5 345.5h0M271.6 366.8h0M271.7 371.4h0M271.7 372.0h0M271.8 355.8h0M271.8 375.9h0M271.9 387.7h0M272.2 347.7h0M272.2 357.9h0M272.3 357.9h0M272.4 380.6h0M272.5 384.8h0M272.5 388.9h0M272.6 359.0h0M272.7 378.1h0M272.7 366.1h0M273.5 408.0h0M273.5 360.6h0M273.5 386.5h0M273.8 389.6h0M274.0 395.1h0M274.3 370.0h0M274.4 353.5h0M274.4 385.7h0M274.6 396.7h0M274.6 374.4h0M274.7 399.7h0M274.8 383.0h0M274.8 392.0h0M275.0 375.3h0M275.2 399.0h0M275.4 382.0h0M275.4 389.6h0M275.4 375.0h0M275.7 378.0h0M275.7 361.8h0M275.9 373.4h0M276.1 350.3h0M276.3 401.0h0M276.4 380.7h0M276.4 365.1h0M276.4 375.2h0M276.7 359.6h0M276.7 371.9h0M277.0 384.2h0M277.1 387.0h0M277.2 378.3h0M277.5 366.3h0M277.5 391.2h0M277.6 366.1h0M277.6 379.9h0M277.7 392.2h0M277.9 382.5h0M278.0 401.1h0M278.1 361.6h0M278.2 376.4h0M278.8 351.2h0M278.8 398.3h0M278.8 389.4h0M278.8 366.5h0M278.9 384.4h0M279.0 363.7h0M279.0 366.6h0M279.1 388.1h0M279.1 374.6h0M279.1 368.2h0M279.2 372.7h0M279.3 379.6h0M279.5 384.0h0M279.5 379.9h0M280.0 361.2h0M280.0 344.4h0M280.1 398.4h0M280.3 392.0h0M280.3 378.9h0M280.4 353.8h0M280.4 389.7h0M280.6 389.1h0M280.6 369.3h0M280.7 391.2h0M280.7 365.6h0M280.7 366.8h0M280.7 382.7h0M281.0 405.1h0M281.1 371.8h0M281.1 382.2h0M281.1 357.6h0M281.2 367.1h0M281.2 390.6h0M281.3 345.2h0M281.4 347.1h0M281.4 352.4h0M281.8 374.7h0M281.9 361.0h0M281.9 373.9h0M281.9 384.1h0M282.0 404.9h0M282.3 371.1h0M282.4 406.7h0M282.4 364.3h0M282.5 396.9h0M282.7 372.0h0M282.7 379.9h0M282.9 393.5h0M283.2 391.8h0M283.3 384.6h0M283.3 351.8h0M283.5 369.5h0M283.6 379.8h0M283.7 362.4h0M284.0 394.1h0M284.0 399.8h0M284.1 389.9h0M284.2 359.3h0M284.2 380.5h0M284.2 374.1h0M284.3 374.1h0M284.4 382.8h0M284.4 356.2h0M284.9 364.7h0M284.9 389.9h0M285.0 392.7h0M285.0 377.0h0M285.2 391.0h0M285.3 376.5h0M285.5 364.6h0M285.5 375.5h0M285.5 373.4h0M285.7 384.5h0M285.9 389.5h0M286.0 393.0h0M286.1 355.6h0M286.6 389.0h0M286.6 375.2h0M286.8 374.8h0M286.8 369.4h0M287.1 382.0h0M287.2 402.6h0M287.2 368.2h0M287.3 393.9h0M287.4 366.8h0M287.6 394.1h0M287.6 365.7h0M287.6 394.0h0M287.6 348.9h0M287.7 369.0h0M287.7 402.4h0M287.7 349.0h0M287.9 407.5h0M288.5 382.1h0M288.6 358.3h0M288.6 383.0h0M288.8 355.5h0M288.8 375.9h0M288.8 386.4h0M288.8 356.0h0M288.9 375.9h0M288.9 384.5h0M289.0 361.1h0M289.0 380.9h0M289.0 399.4h0M289.2 388.8h0M289.2 382.4h0M289.8 344.2h0M289.8 402.6h0M289.9 363.5h0M290.0 356.2h0M290.0 381.4h0M290.0 365.5h0M290.2 393.8h0M290.4 382.4h0M290.5 359.4h0M290.5 377.9h0M290.6 379.6h0M290.7 381.2h0M290.7 399.5h0M290.8 394.0h0M290.9 386.0h0M291.4 379.3h0M291.5 391.7h0M291.5 345.5h0M291.7 406.7h0M291.8 395.4h0M291.8 388.1h0M291.9 368.4h0M292.6 401.6h0M292.8 372.9h0M292.8 391.6h0M293.1 390.6h0M293.3 369.9h0M293.3 363.2h0M293.4 359.7h0M293.5 397.1h0M293.6 359.6h0M293.7 359.3h0M293.9 371.4h0M293.9 369.3h0M293.9 376.3h0M294.1 379.4h0M294.1 362.2h0M294.1 348.3h0M294.2 381.1h0M294.3 370.6h0M294.8 360.6h0M294.8 400.4h0M295.0 348.5h0M295.1 370.2h0M295.4 351.5h0M295.4 381.2h0M295.4 391.3h0M295.5 378.8h0M295.5 371.1h0M295.7 392.2h0M295.7 360.6h0M295.7 371.5h0M295.8 394.4h0M296.0 368.0h0M296.1 378.7h0M296.1 375.5h0M296.1 382.8h0M296.2 388.3h0M296.3 396.9h0M296.5 373.9h0M296.5 375.1h0M296.6 367.5h0M296.7 388.1h0M296.9 368.2h0M296.9 361.3h0M297.0 395.9h0M297.0 372.4h0M297.1 385.1h0M297.2 384.6h0M297.4 381.4h0M297.6 376.8h0M297.6 385.1h0M297.7 361.1h0M298.0 377.6h0M298.0 378.0h0M298.2 389.8h0M298.3 366.8h0M298.3 377.9h0M298.3 383.3h0M298.3 381.8h0M298.3 348.8h0M298.4 376.4h0M298.5 371.7h0M298.8 352.9h0M298.9 378.1h0M299.5 359.6h0M300.0 394.0h0M300.0 364.9h0M300.1 375.8h0M300.1 373.8h0M300.1 383.9h0M300.1 388.9h0M300.3 357.5h0M300.4 363.5h0M300.4 361.4h0M300.5 350.2h0M300.6 367.2h0M300.6 366.3h0M301.0 377.4h0M301.3 343.4h0M301.3 360.8h0M301.3 390.1h0M301.3 391.6h0M301.4 389.5h0M301.5 389.4h0M301.5 353.9h0M301.8 371.2h0M301.9 357.9h0M302.0 389.9h0M302.0 390.0h0M302.5 355.1h0M302.8 360.5h0M302.8 397.7h0M303.0 362.2h0M303.0 388.6h0M303.1 403.6h0M303.3 390.3h0M303.5 358.2h0M303.6 347.7h0M303.7 388.5h0M304.0 389.3h0M304.0 370.8h0M304.2 364.8h0M304.3 404.6h0M304.5 391.1h0M304.5 347.5h0M304.7 391.1h0M304.7 370.1h0M304.7 358.4h0M304.8 382.7h0M305.0 379.8h0M305.1 386.6h0M305.1 388.4h0M305.2 387.6h0M305.2 405.8h0M305.2 385.7h0M305.2 380.6h0M305.2 364.0h0M305.2 384.2h0M305.3 388.5h0M305.4 343.1h0M305.4 377.0h0M305.5 380.8h0M305.6 386.1h0M305.7 376.8h0M306.0 392.2h0M306.1 385.9h0M306.2 392.0h0M306.4 398.4h0M306.5 384.7h0M306.5 401.4h0M306.5 345.9h0M306.5 397.4h0M306.5 345.3h0M306.7 371.0h0M306.9 360.9h0M307.0 350.6h0M307.0 406.2h0M307.0 347.3h0M307.2 367.8h0M307.3 385.2h0M307.4 390.0h0M307.4 370.1h0M307.6 405.2h0M307.7 344.3h0M308.0 379.2h0M308.5 362.0h0M309.0 373.9h0M309.0 383.6h0M309.0 382.7h0M309.3 391.5h0M309.5 353.0h0M309.6 375.9h0M309.7 366.3h0M309.7 367.0h0M309.8 363.3h0M310.0 367.3h0M310.0 352.4h0M310.2 387.0h0M310.4 393.4h0M310.6 377.4h0M310.6 381.3h0M310.7 374.2h0M310.9 353.9h0M311.1 357.6h0M311.1 364.9h0M311.2 389.3h0M311.4 365.8h0M311.8 371.8h0M311.9 361.3h0M312.0 375.1h0M312.1 382.2h0M312.1 372.7h0M312.2 388.2h0M312.2 391.1h0M312.2 370.8h0M312.2 374.9h0M312.2 356.8h0M312.3 372.3h0M312.7 396.4h0M312.7 350.0h0M312.8 345.3h0M312.9 395.1h0M312.9 386.1h0M313.2 357.2h0M313.3 371.7h0M313.4 402.1h0M313.5 354.5h0M313.7 373.6h0M313.8 369.3h0M313.9 353.9h0M314.0 387.5h0M314.0 388.7h0M314.1 363.4h0M314.2 358.5h0M314.3 373.5h0M314.4 354.3h0M314.8 367.8h0M315.0 355.5h0M315.0 390.6h0M315.1 379.5h0M315.1 356.1h0M315.2 391.3h0M315.3 390.4h0M315.5 373.3h0M315.5 380.9h0M315.6 393.2h0M315.7 406.0h0M316.0 350.9h0M316.3 374.9h0M316.3 349.7h0M316.5 392.3h0M316.6 374.7h0M316.7 378.9h0M316.8 374.3h0M316.9 405.2h0M317.0 353.5h0M317.2 381.4h0M317.7 372.2h0M317.7 394.6h0M317.8 347.7h0M317.9 404.6h0M318.0 341.1h0M318.1 383.9h0M318.3 382.9h0M318.4 389.1h0M318.4 350.4h0M318.5 392.5h0M318.5 392.8h0M318.7 394.2h0M319.1 367.5h0M319.1 366.5h0M319.2 390.1h0M319.4 367.0h0M319.4 347.8h0M319.4 363.6h0M319.6 369.4h0M319.7 395.7h0M319.8 347.5h0M319.9 363.9h0M319.9 403.4h0M320.1 390.6h0M320.2 373.7h0M320.3 367.2h0M320.3 400.2h0M320.6 381.9h0M320.8 350.8h0M320.9 403.9h0M321.1 360.8h0M321.1 382.9h0M321.1 397.8h0M321.3 352.9h0M321.4 369.5h0M321.5 390.4h0M321.7 367.4h0M321.7 388.7h0M322.0 393.9h0M322.3 384.6h0M322.4 358.6h0M322.4 407.9h0M322.5 402.4h0M322.5 360.8h0M322.6 404.3h0M322.7 381.5h0M323.1 383.6h0M323.1 402.4h0M323.2 392.0h0M323.4 380.2h0M323.6 379.4h0M323.7 365.6h0M323.8 373.6h0M324.2 360.1h0M324.3 373.7h0M324.3 386.0h0M324.3 365.6h0M324.4 369.2h0M324.6 361.0h0M324.6 380.6h0M324.7 380.2h0M324.7 379.9h0M324.7 406.3h0M324.8 368.9h0M325.1 390.4h0M325.1 392.2h0M325.1 384.6h0M325.4 369.2h0M325.5 392.8h0M325.8 348.4h0M325.8 363.6h0M325.9 383.0h0M326.0 340.2h0M326.1 374.0h0M326.1 370.0h0M326.6 388.4h0M326.6 380.2h0M326.9 367.2h0M327.1 359.1h0M327.2 356.4h0M327.5 339.5h0M327.7 378.6h0M327.9 366.6h0M328.0 347.2h0M328.0 383.6h0M328.4 374.0h0M328.5 351.8h0M328.5 340.4h0M328.6 344.9h0M328.8 367.7h0M328.8 379.4h0M329.0 378.2h0M329.1 377.6h0M329.1 373.8h0M329.3 353.3h0M329.4 380.4h0M329.5 409.6h0M329.6 400.3h0M329.7 349.1h0M329.7 349.9h0M329.8 386.5h0M329.9 381.9h0M330.0 362.2h0M330.0 370.6h0M330.1 370.2h0M330.2 384.0h0M330.2 404.1h0M330.5 373.6h0M330.6 362.6h0M330.7 370.2h0M330.7 345.0h0M330.8 375.4h0M331.0 371.3h0M331.2 375.2h0M331.5 356.8h0M331.6 388.6h0M331.6 398.4h0M331.6 397.9h0M331.7 360.7h0M332.1 361.8h0M332.2 344.4h0M332.4 399.1h0M332.4 394.7h0M332.5 382.1h0M332.6 361.8h0M332.6 359.0h0M332.7 377.9h0M332.7 382.8h0M332.8 371.5h0M332.8 369.4h0M332.8 369.2h0M332.9 379.4h0M332.9 374.3h0M333.1 414.6h0M333.2 358.9h0M333.2 364.6h0M333.3 380.4h0M333.5 395.5h0M333.5 370.2h0M333.6 397.1h0M333.7 359.3h0M333.7 370.1h0M333.8 364.6h0M333.9 355.2h0M333.9 354.0h0M334.0 381.2h0M334.1 360.7h0M334.2 367.5h0M334.2 361.7h0M334.2 374.2h0M334.3 353.7h0M334.4 382.6h0M334.6 377.9h0M334.6 387.7h0M334.6 392.0h0M334.8 374.6h0M334.9 391.7h0M335.1 364.3h0M335.3 352.0h0M335.4 377.4h0M335.5 360.2h0M335.6 401.9h0M335.9 398.1h0M336.0 384.2h0M336.1 397.3h0M336.1 376.6h0M336.2 376.0h0M336.3 344.9h0M336.5 388.3h0M336.6 351.6h0M336.6 398.3h0M336.7 382.2h0M336.9 360.4h0M337.0 370.6h0M337.1 400.0h0M337.5 378.3h0M337.7 367.7h0M337.7 408.4h0M337.9 386.7h0M338.3 383.7h0M338.4 369.0h0M338.4 351.0h0M338.5 405.4h0M338.7 395.9h0M339.0 344.7h0M339.1 352.4h0M339.4 341.5h0M339.6 377.6h0M339.7 355.7h0M339.7 389.6h0M339.7 367.6h0M339.8 397.0h0M339.9 406.3h0M339.9 399.6h0M340.0 356.2h0M340.3 345.9h0M340.5 387.3h0M340.5 384.4h0M340.5 352.3h0M340.8 391.1h0M340.9 371.6h0M341.2 363.9h0M341.3 351.8h0M341.4 382.7h0M341.6 367.8h0M341.7 381.1h0M341.7 362.3h0M341.9 386.7h0M341.9 389.0h0M342.1 397.0h0M342.2 367.8h0M342.3 373.4h0M342.3 371.1h0M342.6 376.8h0M342.6 349.9h0M343.1 369.8h0M343.1 378.3h0M343.3 400.6h0M343.4 385.5h0M343.4 376.9h0M343.7 345.4h0M344.1 366.6h0M344.2 383.8h0M344.3 360.7h0M344.4 363.2h0M344.4 386.3h0M344.6 366.8h0M344.6 399.9h0M344.6 374.4h0M344.7 396.6h0M344.8 355.7h0M345.5 363.1h0M345.6 357.7h0M345.7 361.3h0M345.8 401.6h0M345.9 386.3h0M346.0 391.2h0M346.1 366.4h0M346.3 356.7h0M346.5 350.8h0M346.6 379.5h0M346.7 400.7h0M346.7 370.0h0M346.8 377.1h0M346.9 370.6h0M347.0 375.8h0M347.0 365.4h0M347.1 388.7h0M347.2 369.7h0M347.4 354.9h0M347.4 372.3h0M347.4 364.3h0M347.4 389.9h0M347.4 357.4h0M347.6 378.3h0M347.6 390.4h0M347.9 380.9h0M348.0 384.5h0M348.1 379.8h0M348.4 388.1h0M348.7 339.1h0M348.8 356.5h0M349.4 365.9h0M349.5 366.1h0M349.5 378.2h0M350.0 358.3h0M350.1 381.3h0M350.3 377.9h0M350.3 393.2h0M350.4 349.8h0M350.4 350.5h0M350.4 352.4h0M350.5 351.9h0M350.8 379.5h0M350.8 374.3h0M351.0 354.0h0M351.1 365.5h0M351.3 411.2h0M351.3 370.0h0M351.8 361.6h0M351.8 388.7h0M351.8 402.2h0M351.9 390.2h0M351.9 357.7h0M352.0 371.4h0M352.0 396.0h0M352.0 384.4h0M352.1 381.2h0M352.2 379.5h0M352.4 342.5h0M352.5 396.4h0M352.6 382.9h0M352.7 377.4h0M352.7 393.0h0M352.8 380.2h0M353.2 361.2h0M353.2 378.7h0M353.3 391.9h0M353.3 358.7h0M353.4 401.3h0M353.4 382.3h0M353.6 396.7h0M353.6 399.2h0M353.8 383.6h0M353.8 391.9h0M353.8 381.5h0M353.9 403.0h0M354.0 413.3h0M354.2 347.7h0M354.2 369.7h0M354.3 386.4h0M354.3 373.2h0M354.6 400.6h0M354.7 369.4h0M354.7 410.8h0M354.7 367.4h0M354.8 369.5h0M354.8 379.2h0M354.9 361.5h0M354.9 379.3h0M355.2 339.6h0M355.2 363.2h0M355.3 412.0h0M355.3 400.1h0M355.4 340.1h0M355.4 389.8h0M355.5 369.3h0M355.5 389.6h0M355.6 342.9h0M355.6 352.3h0M355.8 358.8h0M355.9 386.3h0M356.0 383.8h0M356.0 345.3h0M356.1 389.3h0M356.1 351.5h0M356.2 341.1h0M356.2 354.3h0M356.6 406.4h0M357.1 370.1h0M357.3 362.6h0M357.4 371.4h0M357.5 338.2h0M357.6 347.6h0M357.9 394.2h0M358.0 379.5h0M358.1 354.7h0M358.1 354.3h0M358.1 383.9h0M358.3 349.9h0M358.3 395.2h0M358.3 356.8h0M358.5 416.8h0M358.6 365.0h0M358.7 345.0h0M358.7 340.9h0M358.7 395.0h0M358.7 368.4h0M358.8 369.6h0M358.8 351.2h0M359.1 373.6h0M359.1 370.6h0M359.3 408.4h0M359.4 388.9h0M359.5 406.3h0M359.6 406.8h0M359.6 389.6h0M359.8 343.7h0M359.9 368.3h0M359.9 395.2h0M359.9 380.9h0M359.9 399.4h0M360.0 390.8h0M360.1 373.0h0M360.3 412.8h0M360.4 370.8h0M360.5 392.4h0M360.5 352.2h0M360.5 399.7h0M360.7 372.8h0M360.7 397.9h0M360.7 365.6h0M360.7 419.0h0M360.8 390.3h0M361.0 398.3h0M361.2 415.4h0M361.4 386.6h0M361.5 382.5h0M361.8 392.1h0M361.9 402.1h0M362.0 394.3h0M362.1 395.1h0M362.2 353.1h0M362.2 365.3h0M362.7 346.4h0M362.7 355.2h0M362.9 334.3h0M363.0 375.8h0M363.0 369.8h0M363.1 374.1h0M363.3 385.3h0M363.4 360.1h0M363.4 366.5h0M363.6 363.9h0M363.7 369.1h0M363.7 350.5h0M363.8 408.6h0M363.9 361.4h0M363.9 375.9h0M363.9 389.9h0M363.9 382.8h0M364.1 363.0h0M364.1 355.3h0M364.8 380.2h0M364.9 357.7h0M365.0 365.8h0M365.0 350.0h0M365.1 350.2h0M365.1 356.1h0M365.1 383.0h0M365.4 401.3h0M365.5 341.4h0M365.5 394.1h0M365.6 354.7h0M365.6 372.6h0M365.6 335.0h0M365.7 377.0h0M365.8 381.7h0M365.8 386.3h0M366.0 359.6h0M366.1 374.7h0M366.1 388.8h0M366.2 383.8h0M366.5 343.6h0M366.5 364.7h0M366.5 353.9h0M366.6 379.9h0M366.7 366.5h0M366.7 351.3h0M366.8 380.5h0M367.0 342.7h0M367.0 379.5h0M367.3 392.2h0M367.4 386.9h0M367.7 384.2h0M368.1 370.2h0M368.1 381.4h0M368.4 375.5h0M368.9 373.6h0M369.2 343.2h0M369.3 384.8h0M369.3 344.3h0M369.4 351.6h0M369.4 369.3h0M369.7 377.7h0M369.7 373.2h0M369.8 399.0h0M370.0 384.2h0M370.5 375.9h0M370.5 359.7h0M370.6 371.8h0M370.7 350.1h0M370.8 359.1h0M371.1 345.9h0M371.2 387.6h0M371.4 361.0h0M371.4 331.6h0M371.4 388.7h0M371.5 367.8h0M371.5 407.5h0M371.7 362.7h0M371.9 392.1h0M88.1 328.8h0M70.7 335.6h0M87.8 337.7h0M98.2 338.1h0M100.5 342.0h0M70.7 343.1h0M55.9 341.9h0M123.1 341.2h0M122.0 346.2h0M125.9 347.5h0M146.6 345.9h0M166.3 343.9h0M183.9 335.3h0M167.9 345.4h0M179.1 345.4h0M195.9 340.8h0M196.7 344.3h0M199.5 338.4h0M216.6 335.3h0M215.3 337.7h0M210.7 344.7h0M220.3 342.6h0M187.3 347.0h0M250.0 323.2h0M276.8 328.8h0M277.9 333.8h0M226.2 340.8h0M241.8 341.9h0M246.0 341.2h0M257.3 342.3h0M273.7 341.5h0M220.8 342.3h0M234.0 343.9h0M285.0 317.0h0M295.8 321.8h0M278.3 333.5h0M284.1 329.1h0M290.0 332.2h0M304.5 337.3h0M314.9 336.1h0M322.7 330.7h0M328.6 328.8h0M330.1 314.8h0M334.8 333.3h0M295.4 341.9h0M318.8 341.5h0M365.5 314.8h0M366.2 325.6h0M353.6 332.1h0M359.0 330.8h0M345.2 338.9h0M67.6 411.7h0M66.8 413.7h0M62.1 408.6h0M88.9 409.3h0M103.8 419.0h0M106.4 410.1h0M111.9 410.4h0M123.6 409.7h0M133.7 407.6h0M144.9 409.2h0M159.3 408.4h0M149.7 430.7h0M169.9 410.1h0M169.4 414.0h0M169.0 418.2h0M209.9 422.1h0M211.4 407.3h0M213.8 411.2h0M243.3 415.9h0M250.3 421.6h0M240.2 426.0h0M254.5 427.5h0M255.5 412.3h0M266.7 420.9h0M269.8 412.8h0M286.1 413.6h0M291.6 419.8h0M295.9 415.4h0M288.8 428.0h0M311.8 435.8h0M330.7 422.9h0M312.1 412.3h0M303.7 411.2h0M338.6 420.3h0M345.0 419.0h0M350.6 428.0h0M353.2 417.4h0M359.9 419.8h0M367.2 424.9h0M370.7 422.0h0" stroke="#00ff00" stroke-width="4.4" stroke-linecap="round" fill="none"/>
<polyline points="55.5,345.99 60.9,346.17 66.2,346.34 71.6,346.51 77.0,346.67 82.3,346.82 87.7,346.97 93.1,347.12 98.4,347.25 103.8,347.38 109.1,347.49 114.5,347.60 119.9,347.70 125.2,347.78 130.6,347.86 136.0,347.92 141.3,347.97 146.7,348.01 152.1,348.03 157.4,348.04 162.8,348.04 168.2,348.02 173.5,347.98 178.9,347.93 184.2,347.86 189.6,347.77 195.0,347.67 200.3,347.54 205.7,347.40 211.1,347.23 216.4,347.05 221.8,346.84 227.2,346.62 232.5,346.37 237.9,346.10 243.3,345.80 248.6,345.48 254.0,345.14 259.3,344.77 264.7,344.38 270.1,343.96 275.4,343.51 280.8,343.03 286.2,342.53 291.5,342.00 296.9,341.44 302.3,340.85 307.6,340.23 313.0,339.58 318.4,338.90 323.7,338.18 329.1,337.44 334.4,336.66 339.8,335.84 345.2,334.99 350.5,334.11 355.9,333.19 361.3,332.24 366.6,331.25 372.0,330.22" fill="none" stroke="#0000ff" stroke-width="1.4" stroke-dasharray="6 4.8"/>
<polyline points="55.5,407.01 60.9,406.83 66.2,406.66 71.6,406.49 77.0,406.33 82.3,406.18 87.7,406.03 93.1,405.88 98.4,405.75 103.8,405.62 109.1,405.51 114.5,405.40 119.9,405.30 125.2,405.22 130.6,405.14 136.0,405.08 141.3,405.03 146.7,404.99 152.1,404.97 157.4,404.96 162.8,404.96 168.2,404.98 173.5,405.02 178.9,405.07 184.2,405.14 189.6,405.23 195.0,405.33 200.3,405.46 205.7,405.60 211.1,405.77 216.4,405.95 221.8,406.16 227.2,406.38 232.5,406.63 237.9,406.90 243.3,407.20 248.6,407.52 254.0,407.86 259.3,408.23 264.7,408.62 270.1,409.04 275.4,409.49 280.8,409.97 286.2,410.47 291.5,411.00 296.9,411.56 302.3,412.15 307.6,412.77 313.0,413.42 318.4,414.10 323.7,414.82 329.1,415.56 334.4,416.34 339.8,417.16 345.2,418.01 350.5,418.89 355.9,419.81 361.3,420.76 366.6,421.75 372.0,422.78" fill="none" stroke="#0000ff" stroke-width="1.4" stroke-dasharray="6 4.8"/>
<text x="81.60" y="10.90" font-size="12.7" text-anchor="end">0.1</text>
<text x="82.10" y="71.20" font-size="12.7" text-anchor="end">0.05</text>
<text x="83.50" y="132.70" font-size="12.7" text-anchor="end">0</text>
<text x="81.90" y="193.90" font-size="12.7" text-anchor="end">−0.05</text>
<text x="81.60" y="253.90" font-size="12.7" text-anchor="end">−0.1</text>
<text x="80.70" y="264.00" font-size="12.7" text-anchor="middle">−0.1</text>
<text x="142.10" y="264.00" font-size="12.7" text-anchor="middle">−0.05</text>
<text x="208.10" y="264.00" font-size="12.7" text-anchor="middle">0</text>
<text x="268.10" y="264.00" font-size="12.7" text-anchor="middle">0.05</text>
<text x="328.30" y="264.00" font-size="12.7" text-anchor="middle">0.1</text>
<text x="209.90" y="281.10" font-size="13.2" text-anchor="middle">East error [m]</text>
<text transform="translate(42.7 127.3) rotate(-90)" x="0" y="0" font-size="13.2" text-anchor="middle">North error [m]</text>
<text x="50.10" y="318.80" font-size="12.7" text-anchor="end">0.1</text>
<text x="50.60" y="350.00" font-size="12.7" text-anchor="end">0.05</text>
<text x="51.90" y="381.70" font-size="12.7" text-anchor="end">0</text>
<text x="50.20" y="412.90" font-size="12.7" text-anchor="end">−0.05</text>
<text x="50.10" y="444.70" font-size="12.7" text-anchor="end">−0.1</text>
<text x="99.80" y="454.50" font-size="12.7" text-anchor="middle">500</text>
<text x="144.80" y="454.50" font-size="12.7" text-anchor="middle">1000</text>
<text x="189.80" y="454.50" font-size="12.7" text-anchor="middle">1500</text>
<text x="235.80" y="454.50" font-size="12.7" text-anchor="middle">2000</text>
<text x="280.80" y="454.50" font-size="12.7" text-anchor="middle">2500</text>
<text x="325.80" y="454.50" font-size="12.7" text-anchor="middle">3000</text>
<text x="371.80" y="454.50" font-size="12.7" text-anchor="middle">3500</text>
<text x="213.50" y="471.80" font-size="13.2" text-anchor="middle"># triple−epoch samples</text>
<text transform="translate(11.2 366.3) rotate(-90)" x="0" y="0" font-size="13.2" text-anchor="middle">Height error [m]</text>
<text x="217.80" y="307.50" font-size="13.3" text-anchor="middle">Empirical std = 0.025 m; Formal std = 0.027 m</text>
</svg>
</body></html>
